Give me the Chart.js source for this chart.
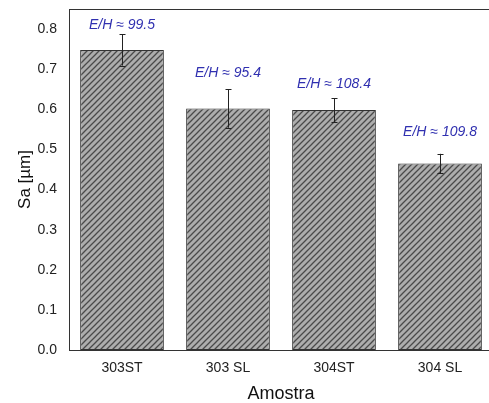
<!DOCTYPE html>
<html>
<head>
<meta charset="utf-8">
<script src="https://cdn.jsdelivr.net/npm/chart.js@4.4.1/dist/chart.umd.min.js"></script>
<style>
  html, body { margin: 0; padding: 0; background: #fff; overflow: hidden; }
  #wrap { width: 500px; height: 403px; }
</style>
</head>
<body>
<div id="wrap"><canvas id="c" width="500" height="403"></canvas></div>
<script>
// data
var samples = ['303ST', '303 SL', '304ST', '304 SL'];
var sa = [0.748, 0.602, 0.598, 0.465];
var saErr = [0.039, 0.048, 0.030, 0.024];
var ehText = ['E/H \u2248 99.5', 'E/H \u2248 95.4', 'E/H \u2248 108.4', 'E/H \u2248 109.8'];
var ehAt = [0.81, 0.69, 0.663, 0.543];
var yTicks = [0, 0.1, 0.2, 0.3, 0.4, 0.5, 0.6, 0.7, 0.8];

// hatch fill for the bars
function makeHatch() {
	var s = 6;
	var p = document.createElement('canvas');
	p.width = s; p.height = s;
	var g = p.getContext('2d');
	g.fillStyle = '#adadad';
	g.fillRect(0, 0, s, s);
	g.strokeStyle = '#4a4a4a';
	g.lineWidth = 1.3;
	g.beginPath();
	g.moveTo(0, s); g.lineTo(s, 0);
	g.moveTo(-1, 1); g.lineTo(1, -1);
	g.moveTo(s - 1, s + 1); g.lineTo(s + 1, s - 1);
	g.stroke();
	return document.getElementById('c').getContext('2d').createPattern(p, 'repeat');
}

var extras = {
	id: 'extras',
	afterDatasetsDraw: function (chart) {
		var ctx = chart.ctx, x = chart.scales.x, y = chart.scales.y, a = chart.chartArea;
		ctx.save();
		// top frame line
		ctx.strokeStyle = '#333';
		ctx.lineWidth = 1;
		ctx.beginPath();
		ctx.moveTo(a.left, Math.round(a.top) + 0.5);
		ctx.lineTo(a.right, Math.round(a.top) + 0.5);
		ctx.stroke();
		// error bars
		ctx.strokeStyle = '#222';
		for (var i = 0; i < sa.length; i++) {
			var cx = Math.round(x.getPixelForValue(i)) + 0.5;
			var hi = y.getPixelForValue(sa[i] + saErr[i]);
			var lo = y.getPixelForValue(sa[i] - saErr[i]);
			ctx.beginPath();
			ctx.moveTo(cx, hi); ctx.lineTo(cx, lo);
			ctx.moveTo(cx - 3, Math.round(hi) + 0.5); ctx.lineTo(cx + 3, Math.round(hi) + 0.5);
			ctx.moveTo(cx - 3, Math.round(lo) + 0.5); ctx.lineTo(cx + 3, Math.round(lo) + 0.5);
			ctx.stroke();
		}
		// E/H labels
		ctx.fillStyle = '#3030b0';
		ctx.font = 'italic 14px "Liberation Sans", Arial, sans-serif';
		ctx.textAlign = 'center';
		ctx.textBaseline = 'middle';
		for (var j = 0; j < ehText.length; j++) {
			ctx.fillText(ehText[j], x.getPixelForValue(j), y.getPixelForValue(ehAt[j]));
		}
		ctx.restore();
	}
};

Chart.defaults.font.family = '"Liberation Sans", Arial, sans-serif';
Chart.defaults.color = '#333';

new Chart(document.getElementById('c'), {
	type: 'bar',
	data: {
		labels: samples,
		datasets: [{
			data: sa,
			backgroundColor: makeHatch(),
			borderColor: '#333',
			borderWidth: 1,
			borderSkipped: false,
			barPercentage: 0.79,
			categoryPercentage: 1
		}]
	},
	options: {
		responsive: false,
		animation: false,
		layout: { padding: { top: 9, right: 7, left: 0, bottom: 0 } },
		plugins: { legend: { display: false }, tooltip: { enabled: false } },
		scales: {
			x: {
				grid: { display: false, drawTicks: false },
				border: { display: true, color: '#333', width: 1 },
				ticks: { font: { size: 14 }, padding: 10, color: '#222' },
				title: { display: true, text: 'Amostra', font: { size: 18 }, color: '#111', padding: { top: 6, bottom: -2 } },
				afterFit: function (s) { s.height = 53; s.paddingLeft = 0; s.paddingRight = 0; }
			},
			y: {
				min: 0,
				max: 0.85,
				afterBuildTicks: function (s) { s.ticks = yTicks.map(function (v) { return { value: v }; }); },
				grid: { display: false, drawTicks: false },
				border: { display: true, color: '#333', width: 1 },
				ticks: {
					font: { size: 14 }, padding: 12, color: '#222',
					callback: function (v) { return v.toFixed(1); }
				},
				title: { display: true, text: 'Sa [\u00b5m]', font: { size: 17 }, color: '#111', padding: { top: 15, bottom: 4 } },
				afterFit: function (s) { s.width = 69; s.paddingTop = 0; s.paddingBottom = 0; }
			}
		}
	},
	plugins: [extras]
});
</script>
</body>
</html>
